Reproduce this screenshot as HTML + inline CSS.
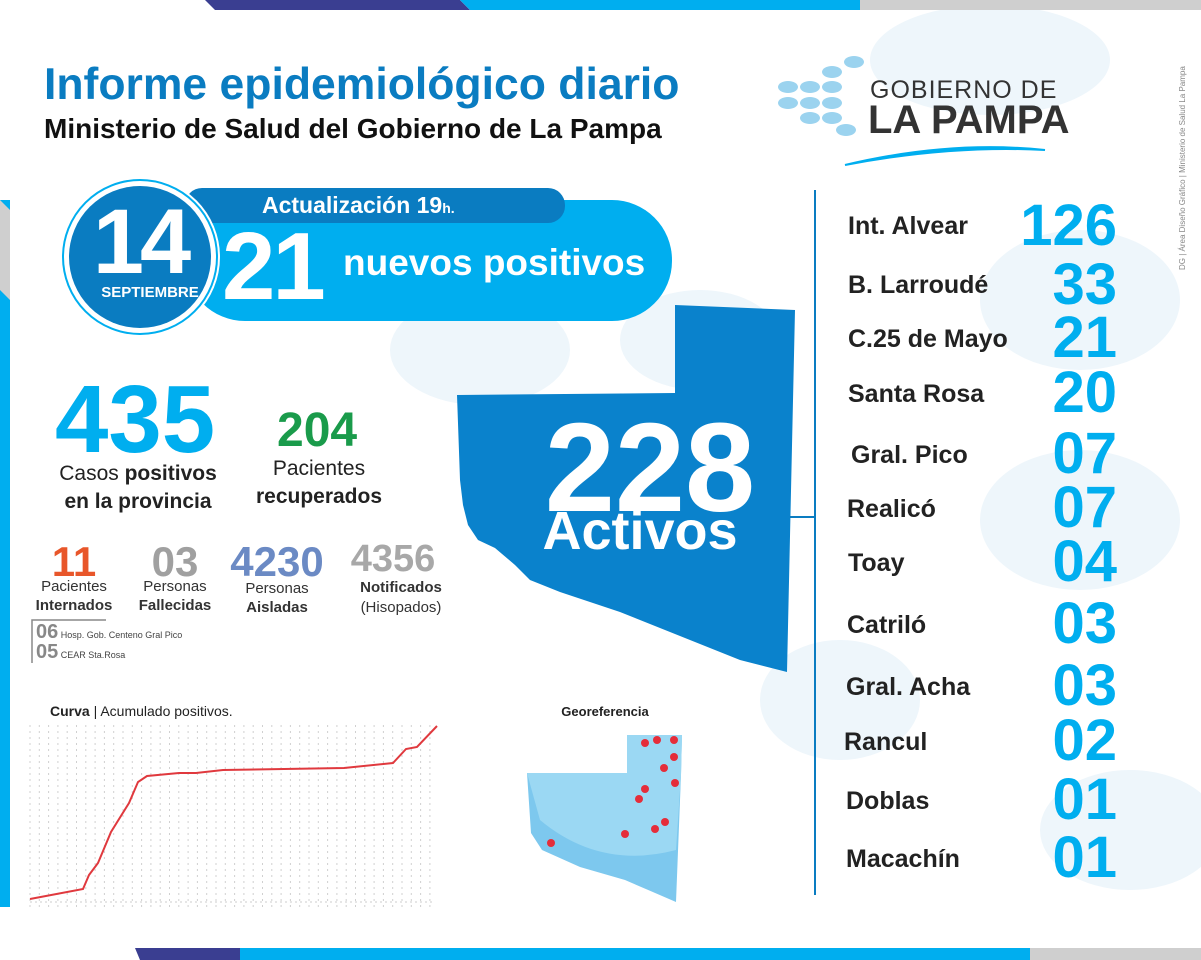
<!DOCTYPE html>
<html><head><meta charset="utf-8"><style>
body{margin:0;width:1201px;height:960px;overflow:hidden;background:#fff;font-family:"Liberation Sans",sans-serif;position:relative}
.a{position:absolute;white-space:nowrap}
.b{font-weight:bold}
.n{position:absolute;left:848px;font-weight:bold;font-size:25px;color:#222}
.v{position:absolute;right:84px;font-weight:bold;font-size:58px;color:#00aeef;line-height:58px}
.c{text-align:center;transform:translateX(-50%)}
</style></head><body>
<svg class="a" style="left:0;top:0" width="1201" height="960">
<g fill="#eef6fb">
<ellipse cx="990" cy="60" rx="120" ry="55"/><ellipse cx="1080" cy="300" rx="100" ry="70"/><ellipse cx="1080" cy="520" rx="100" ry="70"/><ellipse cx="840" cy="700" rx="80" ry="60"/><ellipse cx="1130" cy="830" rx="90" ry="60"/><ellipse cx="480" cy="350" rx="90" ry="55"/><ellipse cx="700" cy="340" rx="80" ry="50"/>
</g>
<polygon points="205,0 460,0 470,10 215,10" fill="#3a3e91"/>
<polygon points="460,0 860,0 860,10 470,10" fill="#00aeef"/>
<rect x="860" y="0" width="341" height="10" fill="#cfcfcf"/>
<polygon points="135,948 240,948 248,960 140,960" fill="#3a3e91"/>
<rect x="240" y="948" width="790" height="12" fill="#00aeef"/>
<rect x="1030" y="948" width="171" height="12" fill="#cfcfcf"/>
<rect x="0" y="200" width="10" height="707" fill="#00aeef"/>
<polygon points="0,200 10,210 10,300 0,290" fill="#cfcfcf"/>
<rect x="185" y="200" width="487" height="121" rx="60" fill="#00aeef"/>
<rect x="185" y="188" width="380" height="35" rx="17" fill="#0a7cc1"/>
<circle cx="140" cy="257" r="80" fill="#fff"/>
<circle cx="140" cy="257" r="77" fill="none" stroke="#00aeef" stroke-width="2"/>
<circle cx="140" cy="257" r="71" fill="#0a7cc1"/>
<polygon points="675,305 795,310 787,672 740,660 690,640 620,612 560,592 530,580 515,565 495,548 478,540 468,525 463,505 460,480 457,395 675,393" fill="#0a82cc"/>
<line x1="815" y1="190" x2="815" y2="895" stroke="#0a7cc1" stroke-width="2"/>
<line x1="790" y1="517" x2="815" y2="517" stroke="#0a7cc1" stroke-width="2"/>
<g fill="#9bd3ef"><ellipse cx="788" cy="87" rx="10" ry="6"/><ellipse cx="810" cy="87" rx="10" ry="6"/><ellipse cx="832" cy="72" rx="10" ry="6"/><ellipse cx="832" cy="87" rx="10" ry="6"/><ellipse cx="788" cy="103" rx="10" ry="6"/><ellipse cx="810" cy="103" rx="10" ry="6"/><ellipse cx="832" cy="103" rx="10" ry="6"/><ellipse cx="810" cy="118" rx="10" ry="6"/><ellipse cx="832" cy="118" rx="10" ry="6"/><ellipse cx="846" cy="130" rx="10" ry="6"/><ellipse cx="854" cy="62" rx="10" ry="6"/></g>
<path d="M845,165 Q950,140 1045,150 Q950,145 845,165Z" fill="#00aeef" stroke="#00aeef" stroke-width="2"/>
<polyline points="32,663 32,620 106,620" fill="none" stroke="#888" stroke-width="1.5"/>
<g stroke="#ccc" stroke-width="1" stroke-dasharray="2,3">
<line x1="30" y1="902" x2="435" y2="902"/>
</g>
<g id="gr" stroke="#d0d0d0" stroke-width="1" stroke-dasharray="2,4"></g>
<polyline points="30,899 83,889 89,875 98,863 111,832 129,803 138,782 147,776 179,773 196,773 223,770 344,768 393,763 406,749 417,747 437,726" fill="none" stroke="#e0393e" stroke-width="2"/>
<polygon points="627,735 682,735 681,775 676,902 625,880 580,867 542,850 531,833 527,773 627,773" fill="#7dc8ee"/>
<path d="M627,735 L682,735 L681,775 L676,850 Q600,870 540,820 L527,773 L627,773Z" fill="#9bd8f3"/>
<g fill="#e52d3a"><circle cx="645" cy="743" r="4"/><circle cx="657" cy="740" r="4"/><circle cx="674" cy="740" r="4"/><circle cx="674" cy="757" r="4"/><circle cx="664" cy="768" r="4"/><circle cx="675" cy="783" r="4"/><circle cx="645" cy="789" r="4"/><circle cx="639" cy="799" r="4"/><circle cx="665" cy="822" r="4"/><circle cx="655" cy="829" r="4"/><circle cx="625" cy="834" r="4"/><circle cx="551" cy="843" r="4"/></g>
</svg>
<script>
var g=document.getElementById('gr'),s='';for(var x=30;x<=435;x+=9.3){s+='<line x1="'+x+'" y1="725" x2="'+x+'" y2="908"/>';}g.innerHTML=s;
</script>
<div class="a b" style="left:44px;top:60px;font-size:44.5px;color:#0a7cc1">Informe epidemiológico diario</div>
<div class="a b" style="left:44px;top:113px;font-size:28px;color:#111">Ministerio de Salud del Gobierno de La Pampa</div>
<div class="a" style="left:870px;top:76px;font-size:25px;color:#333;letter-spacing:1px">GOBIERNO DE</div>
<div class="a b" style="left:868px;top:98px;font-size:40px;color:#333">LA PAMPA</div>
<div class="a" style="left:1178px;top:270px;font-size:8px;color:#888;transform:rotate(-90deg);transform-origin:0 0">DG | Área Diseño Gráfico | Ministerio de Salud La Pampa</div>
<div class="a b" style="left:262px;top:192px;font-size:23px;color:#fff">Actualización 19<span style="font-size:14px">h.</span></div>
<div class="a b c" style="left:140px;top:190px;font-size:92px;color:#fff;letter-spacing:-4px">14</div>
<div class="a b c" style="left:150px;top:284px;font-size:15px;color:#fff">SEPTIEMBRE</div>
<div class="a b" style="left:222px;top:212px;font-size:96px;color:#fff;letter-spacing:-3px">21</div>
<div class="a b" style="left:343px;top:242px;font-size:37px;color:#fff">nuevos positivos</div>
<div class="a b" style="left:55px;top:365px;font-size:96px;color:#00aeef">435</div>
<div class="a c" style="left:138px;top:460px;font-size:21px;color:#222;text-align:center;line-height:28px">Casos <b>positivos</b><br><b>en la provincia</b></div>
<div class="a b" style="left:277px;top:403px;font-size:48px;color:#1a9b4b">204</div>
<div class="a c" style="left:319px;top:455px;font-size:21px;color:#222;line-height:28px">Pacientes<br><b>recuperados</b></div>
<div class="a b c" style="left:650px;top:395px;font-size:126px;color:#fff">228</div>
<div class="a b c" style="left:640px;top:500px;font-size:54px;color:#fff">Activos</div>
<div class="a b c" style="left:74px;top:538px;font-size:42px;color:#e8562a">11</div>
<div class="a c" style="left:74px;top:577px;font-size:15px;color:#333;line-height:19px">Pacientes<br><b>Internados</b></div>
<div class="a b c" style="left:175px;top:538px;font-size:42px;color:#a0a0a0">03</div>
<div class="a c" style="left:175px;top:577px;font-size:15px;color:#333;line-height:19px">Personas<br><b>Fallecidas</b></div>
<div class="a b c" style="left:277px;top:538px;font-size:42px;color:#6b8ac4">4230</div>
<div class="a c" style="left:277px;top:579px;font-size:15px;color:#333;line-height:19px">Personas<br><b>Aisladas</b></div>
<div class="a b c" style="left:393px;top:538px;font-size:38px;color:#a8a8a8">4356</div>
<div class="a c" style="left:401px;top:578px;font-size:15px;color:#333;line-height:20px"><b>Notificados</b><br>(Hisopados)</div>
<div class="a" style="left:36px;top:621px;font-size:9px;color:#444"><b style="font-size:20px;color:#888">06</b> Hosp. Gob. Centeno Gral Pico</div>
<div class="a" style="left:36px;top:641px;font-size:9px;color:#444"><b style="font-size:20px;color:#888">05</b> CEAR Sta.Rosa</div>
<div class="a" style="left:50px;top:703px;font-size:14px;color:#222"><b>Curva</b> | Acumulado positivos.</div>
<div class="a b c" style="left:605px;top:704px;font-size:13px;color:#222">Georeferencia</div>
<div class="n" style="top:212px">Int. Alvear</div><div class="v" style="top:197px">126</div>
<div class="n" style="top:271px">B. Larroudé</div><div class="v" style="top:256px">33</div>
<div class="n" style="top:325px">C.25 de Mayo</div><div class="v" style="top:309px">21</div>
<div class="n" style="top:380px">Santa Rosa</div><div class="v" style="top:364px">20</div>
<div class="n" style="top:441px;left:851px">Gral. Pico</div><div class="v" style="top:425px">07</div>
<div class="n" style="top:495px;left:847px">Realicó</div><div class="v" style="top:479px">07</div>
<div class="n" style="top:549px">Toay</div><div class="v" style="top:533px">04</div>
<div class="n" style="top:611px;left:847px">Catriló</div><div class="v" style="top:595px">03</div>
<div class="n" style="top:673px;left:846px">Gral. Acha</div><div class="v" style="top:657px">03</div>
<div class="n" style="top:728px;left:844px">Rancul</div><div class="v" style="top:712px">02</div>
<div class="n" style="top:787px;left:846px">Doblas</div><div class="v" style="top:771px">01</div>
<div class="n" style="top:845px;left:846px">Macachín</div><div class="v" style="top:829px">01</div>
</body></html>
